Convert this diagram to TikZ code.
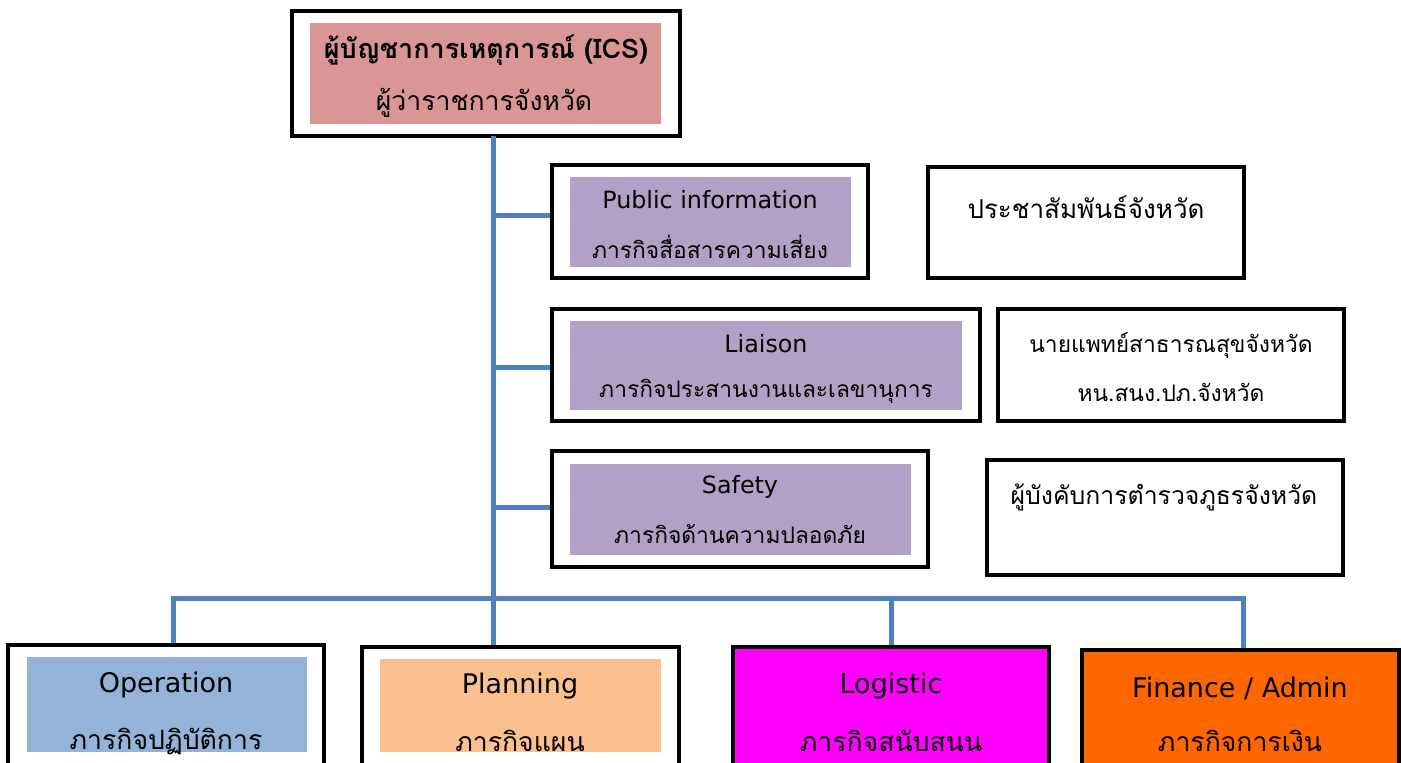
\documentclass[tikz,border=0pt]{standalone}
\usepackage{fontspec}
\setmainfont[Script=Thai]{Loma}
\newfontfamily\latinfont{DejaVu Sans}
\usepackage{tikz}
\usetikzlibrary{arrows.meta}

\definecolor{icspink}{HTML}{D99694}
\definecolor{staffpurple}{HTML}{B2A1C7}
\definecolor{opsblue}{HTML}{95B3D7}
\definecolor{planpeach}{HTML}{FAC090}
\definecolor{logmagenta}{HTML}{FF00FF}
\definecolor{finorange}{HTML}{FF6600}
\definecolor{linkblue}{HTML}{4F81BD}

\tikzset{
  frame/.style={draw=black, line width=2pt, rectangle, inner sep=0pt},
  inbox/.style={rectangle, inner sep=0pt},
  link/.style={draw=linkblue, line width=2.5pt},
  lab/.style={inner sep=0pt, font=\fontsize{11.4}{13}\selectfont},
  latlab/.style={inner sep=0pt, font=\latinfont\fontsize{11.9}{13}\selectfont},
  big/.style={inner sep=0pt, font=\fontsize{13.3}{15}\selectfont},
  latbig/.style={inner sep=0pt, font=\latinfont\fontsize{13.5}{15}\selectfont}
}

\begin{document}
\begin{tikzpicture}[x=0.5pt, y=-0.5pt]
\clip (0,0) rectangle (1401,762);
\useasboundingbox (0,0) rectangle (1401,762);
% commander
\node[frame, minimum width=194pt, minimum height=62.5pt] (ics) at (486,73.5) {};
\node[inbox, fill=icspink, minimum width=175.5pt, minimum height=50.5pt] (icsin) at (485.5,73.5) {};
\node[big, font=\fontsize{13.5}{15}\selectfont\bfseries] (icsA) at (486,50) {ผู้บัญชาการเหตุการณ์ (ICS)};
\node[big] (icsB) at (484,103) {ผู้ว่าราชการจังหวัด};
% staff
\node[frame, minimum width=158pt, minimum height=56.5pt] (pub) at (710,221.5) {};
\node[inbox, fill=staffpurple, minimum width=140.5pt, minimum height=45pt] (pubin) at (710.5,222) {};
\node[latlab] (pubA) at (710,200) {Public information};
\node[lab] (pubB) at (710,247) {ภารกิจสื่อสารความเสี่ยง};
\node[frame, minimum width=158pt, minimum height=55.5pt] (pubR) at (1086,222.5) {};
\node[lab, font=\fontsize{13}{15}\selectfont] (pubRA) at (1086,207) {ประชาสัมพันธ์จังหวัด};

\node[frame, minimum width=214pt, minimum height=56pt] (lia) at (766,365) {};
\node[inbox, fill=staffpurple, minimum width=196pt, minimum height=44.5pt] (liain) at (766,365.5) {};
\node[latlab] (liaA) at (766,344) {Liaison};
\node[lab] (liaB) at (766,391) {ภารกิจประสานงานและเลขานุการ};
\node[frame, minimum width=173pt, minimum height=56pt] (liaR) at (1171,365) {};
\node[lab] (liaRA) at (1171,345) {นายแพทย์สาธารณสุขจังหวัด};
\node[lab] (liaRB) at (1171,392) {หน.สนง.ปภ.จังหวัด};

\node[frame, minimum width=188pt, minimum height=58pt] (saf) at (740,509) {};
\node[inbox, fill=staffpurple, minimum width=170.5pt, minimum height=45.5pt] (safin) at (740.5,509.5) {};
\node[latlab] (safA) at (740,487) {Safety};
\node[lab] (safB) at (740,534) {ภารกิจด้านความปลอดภัย};
\node[frame, minimum width=178pt, minimum height=57.5pt] (safR) at (1165,517.5) {};
\node[lab, font=\fontsize{12.4}{15}\selectfont] (safRA) at (1164,497) {ผู้บังคับการตำรวจภูธรจังหวัด};
% sections
\node[frame, minimum width=158pt, minimum height=77.5pt] (ope) at (166,722.5) {};
\node[inbox, fill=opsblue, minimum width=140pt, minimum height=47.5pt] (opein) at (167,704.5) {};
\node[latbig] (opeA) at (166,685) {Operation};
\node[big] (opeB) at (166,741) {ภารกิจปฏิบัติการ};

\node[frame, minimum width=158.5pt, minimum height=76.5pt] (pla) at (520.5,723.5) {};
\node[inbox, fill=planpeach, minimum width=140.5pt, minimum height=46.5pt] (plain) at (520.5,705.5) {};
\node[latbig] (plaA) at (520,686) {Planning};
\node[big] (plaB) at (520,741) {ภารกิจแผน};

\node[frame, fill=logmagenta, minimum width=158pt, minimum height=76.5pt] (log) at (891,723.5) {};
\node[latbig] (logA) at (891,686) {Logistic};
\node[big] (logB) at (891,741) {ภารกิจสนับสนน};

\node[frame, fill=finorange, minimum width=158.5pt, minimum height=75pt] (fin) at (1240.5,725) {};
\node[latbig] (finA) at (1240,688) {Finance / Admin};
\node[big] (finB) at (1240,741) {ภารกิจการเงิน};
% connectors
\coordinate (top) at (493,136);
\coordinate (bus) at (493,598);
\coordinate (pubW) at ([yshift=3.25pt]pub.west);
\coordinate (liaW) at ([yshift=-1pt]lia.west);
\coordinate (safW) at ([yshift=1pt]saf.west);
\coordinate (opeN) at ([xshift=3.5pt]ope.north);
\coordinate (finN) at ([xshift=1.25pt]fin.north);
\draw[link] (top) -- (bus);
\draw[link] (top |- pubW) -- (pubW);
\draw[link] (top |- liaW) -- (liaW);
\draw[link] (top |- safW) -- (safW);
\draw[link] (opeN) |- (bus) -| (finN);
\draw[link] (bus) -- (bus |- pla.north);
\draw[link] (bus -| log.north) -- (log.north);
\end{tikzpicture}
\end{document}
